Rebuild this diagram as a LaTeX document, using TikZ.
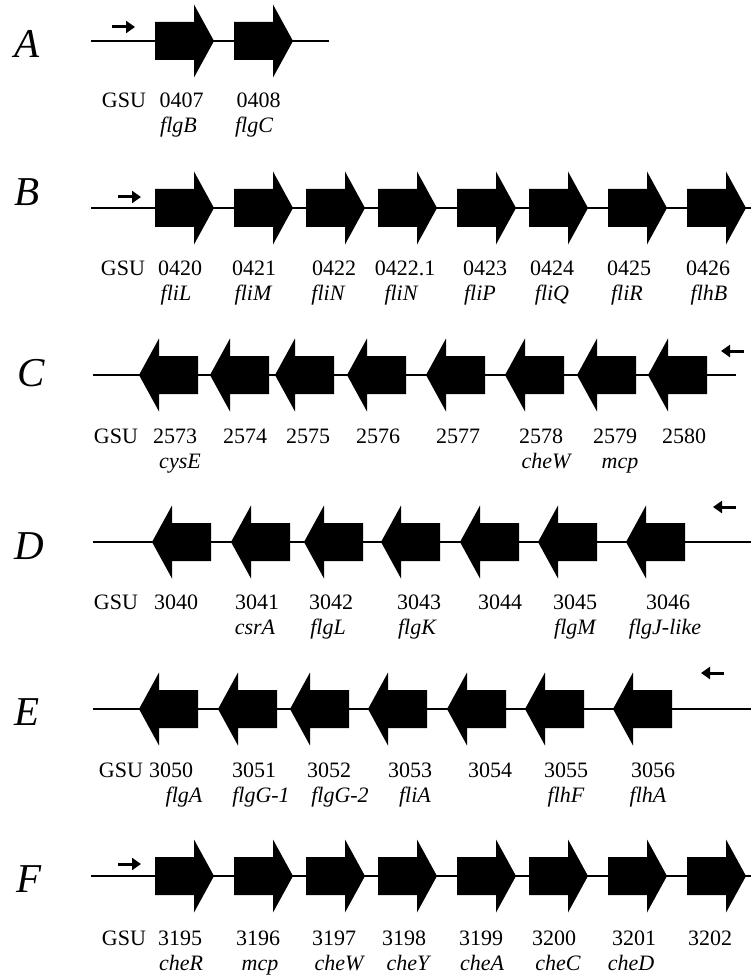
\documentclass[tikz,border=0pt]{standalone}
\usepackage{fontspec}
\setmainfont{Liberation Serif}
\usetikzlibrary{arrows.meta}
\newcommand\rgene[2]{\fill (#1,#2-19) -- (#1+39,#2-19) -- (#1+39,#2-36.5) -- (#1+59,#2) -- (#1+39,#2+36.5) -- (#1+39,#2+19) -- (#1,#2+19) -- cycle;}
\newcommand\lgene[2]{\fill (#1,#2) -- (#1+20,#2-36.5) -- (#1+20,#2-19) -- (#1+59,#2-19) -- (#1+59,#2+19) -- (#1+20,#2+19) -- (#1+20,#2+36.5) -- cycle;}
\begin{document}
\begin{tikzpicture}[x=1pt,y=-1pt,
  dna/.style={line width=2.5pt},
  prom/.style={line width=3pt,-{Triangle[length=9pt,width=12pt]}},
  num/.style={anchor=base,inner sep=0pt,font=\fontsize{22}{22}\selectfont},
  gname/.style={anchor=base,inner sep=0pt,font=\fontsize{22}{22}\selectfont\itshape},
  rowlab/.style={anchor=base,inner sep=0pt,font=\fontsize{41}{41}\selectfont\itshape}]
\useasboundingbox (0,0) rectangle (751,976);
% ---------- Row A ----------
\node[rowlab] (labA) at (27,58) {A};
\coordinate (a0) at (91,41); \coordinate (a1) at (329,41);
\draw[dna] (a0) -- (a1);
\coordinate (pa0) at (112,27); \coordinate (pa1) at (135,27);
\draw[prom] (pa0) -- (pa1);
\foreach \x in {155,234} {\rgene{\x}{41}}
\foreach[count=\i] \x/\t in {124/GSU,181.5/0407,258.5/0408} \node[num] (nA\i) at (\x,108) {\t};
\foreach[count=\i] \x/\t in {178.5/flgB,254/flgC} \node[gname] (gA\i) at (\x,133) {\t};
% ---------- Row B ----------
\node[rowlab] (labB) at (27,206) {B};
\coordinate (b0) at (91,208); \coordinate (b1) at (751,208);
\draw[dna] (b0) -- (b1);
\coordinate (pb0) at (118,197); \coordinate (pb1) at (141,197);
\draw[prom] (pb0) -- (pb1);
\foreach \x in {155,234,306,378,457,529,608,687} {\rgene{\x}{208}}
\foreach[count=\i] \x/\t in {123/GSU,180/0420,254/0421,334/0422,405/0422.1,485/0423,552/0424,629/0425,708/0426} \node[num] (nB\i) at (\x,275) {\t};
\foreach[count=\i] \x/\t in {176/fliL,253/fliM,328/fliN,401/fliN,480/fliP,552/fliQ,627/fliR,709/flhB} \node[gname] (gB\i) at (\x,300) {\t};
% ---------- Row C ----------
\node[rowlab] (labC) at (31,386) {C};
\coordinate (c0) at (93,375); \coordinate (c1) at (736,375);
\draw[dna] (c0) -- (c1);
\coordinate (pc0) at (744,351); \coordinate (pc1) at (721,351);
\draw[prom] (pc0) -- (pc1);
\foreach \x in {139,210,275,347,426,505,577,648} {\lgene{\x}{375}}
\foreach[count=\i] \x/\t in {116/GSU,175/2573,245/2574,308/2575,378/2576,458/2577,541/2578,615/2579,684/2580} \node[num] (nC\i) at (\x,443) {\t};
\foreach[count=\i] \x/\t in {180/cysE,546/cheW,620/mcp} \node[gname] (gC\i) at (\x,468) {\t};
% ---------- Row D ----------
\node[rowlab] (labD) at (29,559) {D};
\coordinate (d0) at (93,542); \coordinate (d1) at (751,542);
\draw[dna] (d0) -- (d1);
\coordinate (pd0) at (736,507); \coordinate (pd1) at (713,507);
\draw[prom] (pd0) -- (pd1);
\foreach \x in {152,231,304,381,460,538,626} {\lgene{\x}{542}}
\foreach[count=\i] \x/\t in {116/GSU,176/3040,257/3041,331/3042,419/3043,500/3044,575/3045,668/3046} \node[num] (nD\i) at (\x,609) {\t};
\foreach[count=\i] \x/\t in {255/csrA,328/flgL,417/flgK,575/flgM,665/flgJ-like} \node[gname] (gD\i) at (\x,634) {\t};
% ---------- Row E ----------
\node[rowlab] (labE) at (27,725) {E};
\coordinate (e0) at (93,709); \coordinate (e1) at (751,709);
\draw[dna] (e0) -- (e1);
\coordinate (pe0) at (724,673); \coordinate (pe1) at (701,673);
\draw[prom] (pe0) -- (pe1);
\foreach \x in {139,218,290,368,447,525,613} {\lgene{\x}{709}}
\foreach[count=\i] \x/\t in {121/GSU,171/3050,254/3051,329/3052,410/3053,490/3054,566/3055,653/3056} \node[num] (nE\i) at (\x,777) {\t};
\foreach[count=\i] \x/\t in {184/flgA,261/flgG-1,340/flgG-2,415/fliA,566/flhF,648/flhA} \node[gname] (gE\i) at (\x,802) {\t};
% ---------- Row F ----------
\node[rowlab] (labF) at (29,892) {F};
\coordinate (f0) at (91,876); \coordinate (f1) at (751,876);
\draw[dna] (f0) -- (f1);
\coordinate (pf0) at (118,864); \coordinate (pf1) at (141,864);
\draw[prom] (pf0) -- (pf1);
\foreach \x in {155,234,306,378,457,529,608,687} {\rgene{\x}{876}}
\foreach[count=\i] \x/\t in {124/GSU,180/3195,258/3196,334/3197,404/3198,481/3199,554/3200,634/3201,710/3202} \node[num] (nF\i) at (\x,945) {\t};
\foreach[count=\i] \x/\t in {181/cheR,260/mcp,339/cheW,408/cheY,482/cheA,558/cheC,631/cheD} \node[gname] (gF\i) at (\x,970) {\t};
\end{tikzpicture}
\end{document}
